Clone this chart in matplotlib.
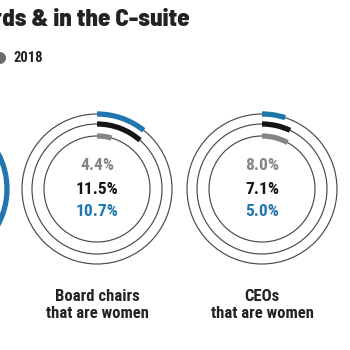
import matplotlib
matplotlib.use("Agg")
import matplotlib.pyplot as plt
from matplotlib.patches import Circle, Arc

# ---- data ----
labels = ["Board chairs\nthat are women", "CEOs\nthat are women"]
share_2018 = [4.4, 8.0]      # inner ring, gray
share_mid = [11.5, 7.1]      # middle ring, black
share_latest = [10.7, 5.0]   # outer ring, blue
clipped_latest = 40.0        # outer blue arc of the donut cut off at the left (estimate)
legend_labels = ["2018"]
title = "Women on boards & in the C-suite"

BLUE = "#2176ae"
BLACK = "#141414"
GRAY = "#858585"
RING = "#4a4a4a"
TXT = "#222222"

COND = ["Roboto Condensed", "DejaVu Sans"]
HEAVY = ["Barlow Semi Condensed", "Barlow Condensed", "Roboto Condensed", "DejaVu Sans"]

fig = plt.figure(figsize=(3.5, 3.5), dpi=100)
ax = fig.add_axes([0, 0, 1, 1])
ax.set_xlim(0, 350)
ax.set_ylim(350, 0)
ax.set_aspect("equal")
ax.axis("off")

cy = 189
radii = [75, 65, 53]
spacing = 165
first_cx = 97

def draw_donut(cx, vals, colors):
    for r in radii:
        ax.add_patch(Circle((cx, cy), r, fill=False, ec=RING, lw=0.85))
    for r, v, c in zip(radii, vals, colors):
        if v is None:
            continue
        ang = v / 100 * 360
        # y axis is inverted: 270 deg is the top, increasing angle runs clockwise on screen
        ax.add_patch(Arc((cx, cy), 2 * r, 2 * r, angle=0,
                         theta1=270, theta2=270 + ang, ec=c, lw=3.8,
                         capstyle="butt"))

# clipped donut at left
draw_donut(first_cx - spacing, [clipped_latest, None, None], [BLUE, BLACK, GRAY])

for i, lab in enumerate(labels):
    cx = first_cx + i * spacing
    draw_donut(cx, [share_latest[i], share_mid[i], share_2018[i]], [BLUE, BLACK, GRAY])
    ax.text(cx, cy - 23, f"{share_2018[i]:.1f}%", ha="center", va="center",
            fontsize=12.5, fontweight="bold", color=GRAY, family=COND)
    ax.text(cx, cy, f"{share_mid[i]:.1f}%", ha="center", va="center",
            fontsize=12.5, fontweight="bold", color=BLACK, family=COND)
    ax.text(cx, cy + 22, f"{share_latest[i]:.1f}%", ha="center", va="center",
            fontsize=12.5, fontweight="bold", color=BLUE, family=COND)
    ax.text(cx, 305, lab, ha="center", va="center", fontsize=12,
            fontweight="bold", color=TXT, family=COND, linespacing=1.15)

# title (cut off at left)
ax.text(190, 20, title, ha="right", va="center", fontsize=18,
        fontweight=800, color=TXT, family=HEAVY)

# legend (only last entry visible)
ax.add_patch(Circle((0, 58), 6, color="#6b6b6b", lw=0))
ax.text(14, 58, legend_labels[0], ha="left", va="center", fontsize=10.5,
        fontweight="bold", color=TXT, family=COND)

fig.savefig("out.png", dpi=100)
